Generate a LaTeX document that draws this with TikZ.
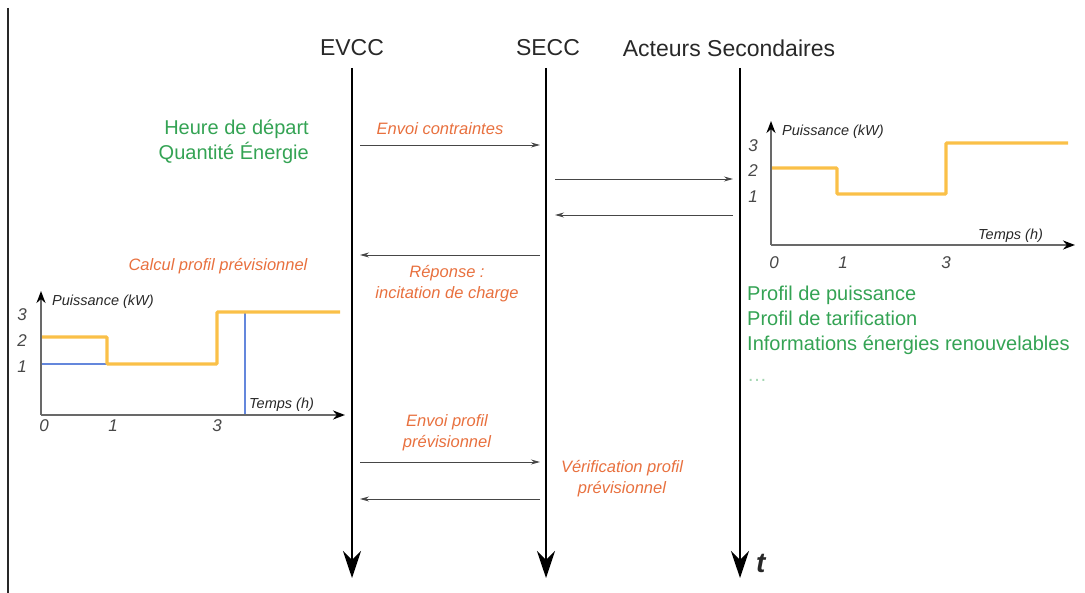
\documentclass[tikz,border=0pt]{standalone}
\usepackage{fontspec}
\setmainfont{Liberation Sans}
\usepackage{xcolor}
\definecolor{ink}{RGB}{40, 40, 40}
\definecolor{msggray}{RGB}{70, 70, 70}
\definecolor{axisgray}{RGB}{105, 105, 105}
\definecolor{evgreen}{RGB}{52, 163, 84}
\definecolor{evorange}{RGB}{232, 112, 62}
\definecolor{curve}{RGB}{250, 192, 72}
\definecolor{guide}{RGB}{100, 135, 220}
\usepackage{tikz}
\usetikzlibrary{arrows.meta, positioning}

\begin{document}
\begin{tikzpicture}[x=1pt, y=-1pt,
  actor/.style={inner sep=0pt, text=ink, font=\fontsize{23}{27}\selectfont},
  lifeline/.style={-{Stealth[length=27pt, width=18pt, inset=9pt]},
    line width=1.8pt, color=black},
  msg/.style={-{Stealth[length=9pt, width=5pt]}, line width=0.9pt, color=msggray},
  note/.style={inner sep=0pt, align=center, text=evorange,
    font=\fontsize{16.5}{21}\selectfont\itshape},
  info/.style={inner sep=0pt, text=evgreen, font=\fontsize{20}{25}\selectfont},
  axis/.style={-{Stealth[length=12pt, width=9pt, color=black]},
    line width=2pt, color=axisgray},
  prof/.style={line width=3.2pt, color=curve, rounded corners=1pt},
  guideline/.style={color=guide, line width=1.1pt},
  tick/.style={inner sep=0pt, text=ink!85, font=\fontsize{17}{20}\selectfont\itshape},
  axlabel/.style={inner sep=0pt, text=ink, font=\fontsize{14.5}{17}\selectfont\itshape}]

  \useasboundingbox (0,0) rectangle (1085,593);
  \draw[line width=1.2pt, color=ink] (8,8) -- (8,593);

  % acteurs
  \node[actor] (evcc) at (352,48) {EVCC};
  \node[actor] (secc) at (548,48) {SECC};
  \node[actor] (acts) at (729,48) {Acteurs Secondaires};

  \coordinate (evtop) at (352,68);  \coordinate (evbot) at (352,578);
  \coordinate (setop) at (546,68);  \coordinate (sebot) at (546,578);
  \coordinate (actop) at (740,68);  \coordinate (acbot) at (740,578);

  \draw[lifeline] (evtop) -- (evbot);
  \draw[lifeline] (setop) -- (sebot);
  \draw[lifeline] (actop) -- (acbot);
  \node[inner sep=0pt, text=ink, font=\fontsize{28}{30}\selectfont\bfseries\itshape,
    right=16pt of acbot, yshift=15pt] (temps) {t};

  % messages
  \coordinate (m1a) at (360,145); \coordinate (m1b) at (540,145);
  \coordinate (m2a) at (555,179); \coordinate (m2b) at (733,179);
  \coordinate (m3a) at (733,215); \coordinate (m3b) at (555,215);
  \coordinate (m4a) at (540,255); \coordinate (m4b) at (360,255);
  \coordinate (m5a) at (360,462); \coordinate (m5b) at (540,462);
  \coordinate (m6a) at (540,499); \coordinate (m6b) at (360,499);

  \draw[msg] (m1a) -- (m1b);
  \draw[msg] (m2a) -- (m2b);
  \draw[msg] (m3a) -- (m3b);
  \draw[msg] (m4a) -- (m4b);
  \draw[msg] (m5a) -- (m5b);
  \draw[msg] (m6a) -- (m6b);

  \node[note] (envc) at (440,129) {Envoi contraintes};
  \node[note] (rep) at (447,284) {Réponse :\\incitation de charge};
  \node[note] (envp) at (447,433) {Envoi profil\\prévisionnel};
  \node[note] (verif) at (622,479) {Vérification profil\\prévisionnel};
  \node[note] (calc) at (218,266) {Calcul profil prévisionnel};

  % donnees
  \node[info, align=right, anchor=east] (besoin) at (309,142)
    {Heure de départ\\Quantité Énergie};
  \node[info, align=left, anchor=north west] (offre) at (747,286)
    {Profil de puissance\\Profil de tarification\\Informations énergies renouvelables};
  \node[info, text=evgreen!45, anchor=west] (etc) at (747,380) {\dots};

  % profil previsionnel (gauche)
  \draw[guideline] (41,364) -- (107,364);
  \draw[guideline] (245,312) -- (245,415);
  \draw[prof] (41,337) -| (107,364) -| (217,312) -- (340,312);
  \draw[axis] (41,415) -- (41,291);
  \draw[axis] (41,415) -- (345,415);
  \node[axlabel, anchor=west] (py1) at (52,302) {Puissance (kW)};
  \node[axlabel, anchor=west] (tx1) at (249,405) {Temps (h)};
  \node[tick] (l3) at (22,315) {3};
  \node[tick] (l2) at (22,341) {2};
  \node[tick] (l1) at (22,367) {1};
  \node[tick] (l0) at (44,426) {0};
  \node[tick] (lt1) at (113,426) {1};
  \node[tick] (lt3) at (217,426) {3};

  % profil de puissance (droite)
  \draw[prof] (771,168) -| (837,194) -| (946,143) -- (1068,143);
  \draw[axis] (771,245) -- (771,121);
  \draw[axis] (771,245) -- (1075,245);
  \node[axlabel, anchor=west] (py2) at (782,132) {Puissance (kW)};
  \node[axlabel, anchor=west] (tx2) at (978,236) {Temps (h)};
  \node[tick] (r3) at (753,146) {3};
  \node[tick] (r2) at (753,171) {2};
  \node[tick] (r1) at (753,197) {1};
  \node[tick] (r0) at (774,263) {0};
  \node[tick] (rt1) at (843,263) {1};
  \node[tick] (rt3) at (946,263) {3};

\end{tikzpicture}
\end{document}
